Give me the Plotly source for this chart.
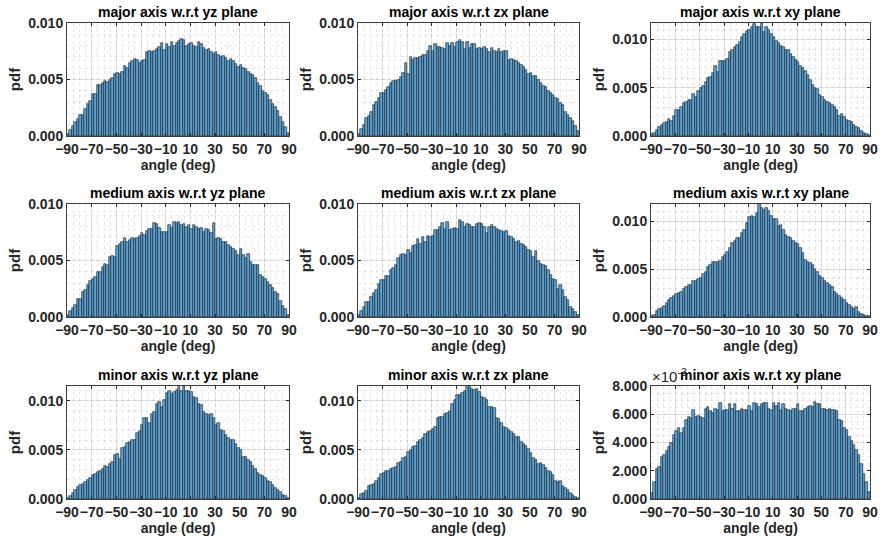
import numpy as np
import plotly.graph_objects as go

# ---------------- data ----------------
angle_min, angle_max, bin_width = -90, 90, 2
x_ticks = [-90, -70, -50, -30, -10, 10, 30, 50, 70, 90]
scale = 1e-4  # values below are pdf x 1e4

titles = [
    "major axis w.r.t yz plane", "major axis w.r.t zx plane", "major axis w.r.t xy plane",
    "medium axis w.r.t yz plane", "medium axis w.r.t zx plane", "medium axis w.r.t xy plane",
    "minor axis w.r.t yz plane", "minor axis w.r.t zx plane", "minor axis w.r.t xy plane",
]

major_yz = [2, 5, 9, 12, 15, 19, 19, 24, 28, 31, 37, 37, 45, 45, 47, 49, 48, 50, 51, 55,
            56, 55, 57, 62, 60, 65, 66, 68, 67, 65, 66, 67, 74, 75, 74, 75, 77, 79, 82, 76,
            81, 79, 83, 80, 82, 84, 86, 85, 80, 81, 82, 80, 79, 83, 81, 78, 76, 77, 74, 73,
            74, 72, 70, 71, 69, 66, 68, 66, 64, 61, 63, 60, 59, 57, 55, 54, 51, 47, 44, 40,
            38, 36, 32, 28, 26, 22, 17, 12, 8, 3]
major_zx = [2, 6, 10, 16, 18, 21, 27, 30, 34, 38, 38, 41, 43, 47, 49, 49, 50, 52, 56, 65,
            55, 70, 67, 69, 69, 70, 72, 72, 75, 80, 75, 81, 79, 79, 78, 77, 82, 80, 82, 79,
            83, 85, 83, 77, 83, 78, 81, 81, 77, 78, 77, 79, 77, 74, 78, 75, 74, 77, 74, 75,
            75, 67, 68, 67, 66, 65, 63, 61, 58, 55, 56, 53, 53, 50, 47, 44, 43, 40, 38, 36,
            34, 33, 29, 27, 21, 19, 16, 13, 9, 4]
major_xy = [2, 3, 6, 9, 11, 13, 15, 18, 16, 21, 27, 27, 30, 34, 35, 37, 37, 43, 40, 47,
            50, 52, 56, 60, 61, 65, 72, 66, 78, 78, 78, 80, 87, 89, 92, 94, 97, 102, 106, 109,
            110, 113, 116, 113, 113, 117, 108, 113, 110, 106, 103, 98, 96, 93, 92, 89, 89, 85, 82, 79,
            77, 73, 70, 67, 63, 58, 53, 50, 49, 42, 40, 37, 35, 34, 32, 30, 27, 21, 23, 20,
            17, 16, 15, 11, 9, 8, 5, 3, 2, 1]
medium_yz = [2, 5, 8, 11, 16, 16, 22, 24, 28, 32, 34, 35, 40, 40, 44, 47, 46, 53, 54, 53,
             63, 65, 66, 70, 66, 68, 70, 69, 70, 72, 74, 73, 76, 78, 78, 83, 82, 79, 75, 75,
             75, 81, 79, 84, 83, 84, 81, 82, 80, 81, 78, 81, 80, 78, 79, 75, 78, 77, 74, 83,
             69, 70, 69, 66, 66, 64, 62, 60, 58, 55, 60, 55, 52, 56, 49, 46, 46, 46, 37, 35,
             34, 31, 28, 26, 22, 20, 14, 10, 7, 2]
medium_zx = [2, 5, 9, 13, 13, 18, 21, 24, 29, 33, 33, 36, 36, 42, 43, 46, 52, 55, 56, 55,
             59, 57, 63, 64, 69, 65, 71, 66, 72, 71, 72, 77, 77, 80, 83, 78, 84, 77, 78, 79,
             78, 86, 84, 80, 82, 81, 80, 80, 82, 83, 82, 80, 74, 80, 81, 80, 78, 77, 76, 75,
             76, 72, 71, 69, 66, 67, 65, 64, 62, 59, 58, 53, 58, 50, 47, 46, 45, 42, 37, 34,
             33, 25, 28, 24, 18, 15, 9, 7, 4, 2]
medium_xy = [1, 2, 6, 8, 9, 11, 15, 18, 20, 22, 24, 25, 26, 29, 31, 33, 33, 38, 38, 40,
             41, 45, 47, 52, 54, 57, 57, 57, 59, 63, 65, 68, 72, 77, 79, 82, 83, 88, 91, 98,
             104, 105, 104, 109, 118, 114, 112, 114, 111, 105, 102, 102, 95, 96, 91, 86, 84, 82, 79, 77,
             76, 72, 67, 60, 57, 56, 54, 50, 47, 43, 41, 38, 35, 33, 31, 26, 24, 22, 20, 18,
             15, 13, 10, 8, 10, 5, 3, 2, 1, 1]
minor_yz = [1, 3, 6, 9, 12, 14, 15, 17, 19, 21, 24, 25, 27, 29, 31, 34, 33, 36, 38, 45,
            46, 41, 52, 53, 57, 58, 60, 60, 67, 69, 75, 82, 82, 77, 87, 89, 97, 99, 94, 101,
            108, 110, 107, 109, 111, 114, 110, 115, 110, 110, 109, 104, 103, 97, 96, 89, 87, 86, 87, 82,
            75, 77, 70, 69, 65, 62, 60, 60, 56, 52, 50, 43, 43, 40, 38, 34, 31, 26, 24, 23,
            21, 18, 17, 14, 11, 9, 7, 4, 3, 1]
minor_zx = [1, 5, 6, 8, 13, 14, 15, 18, 21, 25, 26, 28, 29, 31, 32, 33, 37, 38, 42, 43,
            48, 50, 53, 54, 58, 60, 62, 66, 68, 69, 71, 73, 82, 83, 83, 87, 88, 90, 97, 101,
            106, 106, 108, 110, 115, 114, 112, 111, 112, 109, 104, 103, 101, 94, 94, 93, 82, 81, 77, 73,
            72, 70, 68, 66, 63, 63, 58, 56, 54, 51, 47, 42, 40, 36, 37, 35, 32, 29, 27, 24,
            18, 17, 18, 13, 11, 9, 6, 4, 2, 1]
minor_xy = [4, 12, 21, 23, 30, 31, 34, 37, 40, 45, 48, 50, 47, 50, 56, 58, 57, 63, 58, 59,
            58, 57, 64, 65, 62, 61, 64, 63, 68, 62, 63, 63, 67, 64, 67, 62, 62, 64, 63, 63,
            66, 62, 68, 67, 65, 67, 68, 68, 64, 63, 68, 66, 68, 63, 67, 64, 63, 62, 64, 64,
            67, 62, 62, 64, 65, 66, 65, 69, 67, 67, 64, 64, 63, 64, 63, 63, 62, 56, 55, 50,
            49, 44, 41, 38, 35, 31, 25, 18, 12, 5]

series = [major_yz, major_zx, major_xy, medium_yz, medium_zx, medium_xy,
          minor_yz, minor_zx, minor_xy]

# y-axis limits: fixed for flat-topped panels, tight (max) for peaked ones
y_fixed = {0: 0.010, 1: 0.010, 3: 0.010, 4: 0.010, 8: 0.008}

# ---------------- layout geometry ----------------
W, H = 881, 539
col_px = [(67, 289), (358, 579), (651, 870)]
row_px = [(23, 136), (204, 317), (386, 499)]

edges = np.arange(angle_min, angle_max + bin_width, bin_width)
centers = (edges[:-1] + edges[1:]) / 2

FONT = "Liberation Sans"
TXT = "rgb(38,38,38)"
GRID = "rgba(0,0,0,0.09)"
fig = go.Figure()
annotations = []
layout = {}

for i, vals in enumerate(series):
    r, c = divmod(i, 3)
    k = i + 1
    xs = "" if k == 1 else str(k)
    y = np.array(vals) * scale
    fig.add_trace(go.Bar(
        x=centers, y=y, width=bin_width,
        marker=dict(color="rgb(92,160,208)", line=dict(color="rgb(20,30,40)", width=0.6)),
        xaxis="x" + xs, yaxis="y" + xs, showlegend=False, hoverinfo="x+y",
    ))
    x0, x1 = col_px[c][0] / W, col_px[c][1] / W
    yt, yb = 1 - row_px[r][0] / H, 1 - row_px[r][1] / H
    ymax = y_fixed.get(i, float(y.max()))
    if i == 8:
        yticks = [0, 0.002, 0.004, 0.006, 0.008]
        ytext = ["%.3f" % (v * 1e3) for v in yticks]
        ydt_minor = 0.0005
    else:
        yticks = [0, 0.005, 0.010]
        ytext = ["%.3f" % v for v in yticks]
        ydt_minor = 0.001
    common = dict(
        showline=True, linecolor="rgb(60,60,60)", linewidth=1, mirror="ticks",
        ticks="inside", ticklen=3, tickcolor="rgb(38,38,38)", automargin=False,
        showgrid=True, gridcolor=GRID, gridwidth=1, zeroline=False,
        tickfont=dict(family=FONT, size=14, color=TXT, weight="bold"),
    )
    layout["xaxis" + xs] = dict(
        common, domain=[x0, x1], anchor="y" + xs, range=[angle_min, angle_max],
        tickmode="array", tickvals=x_ticks, tickangle=0,
        minor=dict(dtick=5, tick0=-90, showgrid=True, gridcolor=GRID,
                   griddash="dot", ticks=""),
        title=dict(text="angle (deg)", standoff=1,
                   font=dict(family=FONT, size=14, color=TXT, weight="bold")),
    )
    layout["yaxis" + xs] = dict(
        common, domain=[yb, yt], anchor="x" + xs, range=[0, ymax],
        tickmode="array", tickvals=yticks, ticktext=ytext,
        minor=dict(dtick=ydt_minor, tick0=0, showgrid=True, gridcolor=GRID,
                   griddash="dot", ticks=""),
        title=dict(text="pdf", standoff=3,
                   font=dict(family=FONT, size=15, color=TXT, weight="bold")),
    )
    annotations.append(dict(
        text=titles[i], xref="paper", yref="paper", x=(x0 + x1) / 2, y=yt + 1 / H,
        xanchor="center", yanchor="bottom", showarrow=False,
        font=dict(family=FONT, size=14, color="black", weight="bold"),
    ))
    if i == 8:
        annotations.append(dict(
            text="×10<sup>-3</sup>", xref="paper", yref="paper", x=x0 - 1 / W, y=yt - 1 / H,
            xanchor="left", yanchor="bottom", showarrow=False,
            font=dict(family=FONT, size=15, color=TXT),
        ))

fig.update_layout(
    width=W, height=H, margin=dict(l=0, r=0, t=0, b=0),
    paper_bgcolor="white", plot_bgcolor="white", bargap=0,
    annotations=annotations, **layout,
)
fig.write_html("out.html", config={"displayModeBar": False},
               post_script="document.body.style.margin='0';document.body.style.overflow='hidden';")
